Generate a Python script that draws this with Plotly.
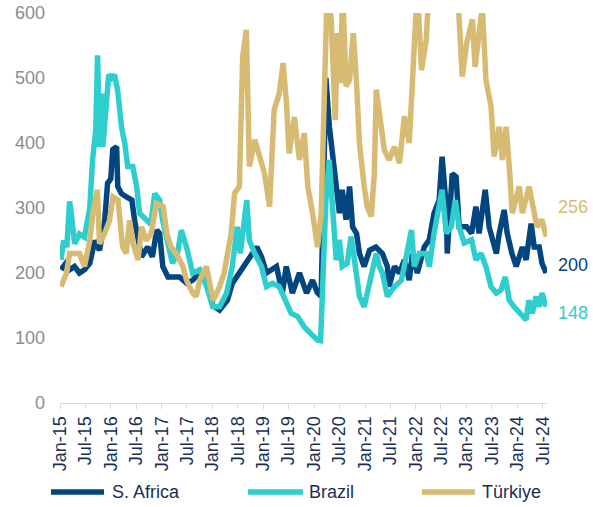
import plotly.graph_objects as go

# Sovereign spreads (bp)
sa_dates = [
    "2015-01-08", "2015-02-12", "2015-03-11", "2015-04-15", "2015-05-21", "2015-06-26",
    "2015-08-03", "2015-09-08", "2015-10-12", "2015-11-18", "2015-12-09", "2016-01-01",
    "2016-01-15", "2016-02-12", "2016-02-20", "2016-03-18", "2016-04-23", "2016-06-01",
    "2016-06-20", "2016-08-09", "2016-09-22", "2016-10-26", "2016-11-26", "2016-12-17",
    "2017-01-09", "2017-02-15", "2017-05-09", "2017-07-01", "2017-08-12", "2017-10-01",
    "2017-11-20", "2018-01-03", "2018-02-21", "2018-04-18", "2018-05-23", "2018-07-13",
    "2018-09-04", "2018-11-15", "2018-12-19", "2019-01-24", "2019-04-06", "2019-05-18",
    "2019-06-15", "2019-07-29", "2019-09-18", "2019-11-08", "2019-12-21", "2020-01-24",
    "2020-02-21", "2020-03-15", "2020-03-26", "2020-04-20", "2020-05-12", "2020-06-08",
    "2020-07-01", "2020-07-21", "2020-08-18", "2020-09-12", "2020-10-04", "2020-11-01",
    "2020-11-22", "2020-12-26", "2021-02-03", "2021-03-20", "2021-05-06", "2021-06-11",
    "2021-06-23", "2021-08-01", "2021-09-06", "2021-10-11", "2021-11-15", "2021-12-08",
    "2022-01-12", "2022-03-03", "2022-04-08", "2022-05-12", "2022-06-18", "2022-07-09",
    "2022-08-08", "2022-08-15", "2022-09-20", "2022-10-18", "2022-11-09", "2023-01-01",
    "2023-02-06", "2023-03-09", "2023-04-01", "2023-05-15", "2023-06-12", "2023-08-03",
    "2023-08-24", "2023-09-28", "2023-10-20", "2023-11-23", "2023-12-24", "2024-02-06",
    "2024-03-04", "2024-04-09", "2024-05-01", "2024-06-06", "2024-06-26", "2024-07-26",
]
sa_values = [
    205, 215, 205, 210, 200, 205,
    215, 250, 235, 280, 338, 345,
    390, 394, 333, 322, 317, 312,
    281, 225, 240, 225, 266, 261,
    210, 194, 194, 184, 189, 200,
    185, 150, 143, 158, 184, 200,
    220, 240, 225, 200, 210, 169,
    210, 169, 200, 169, 189, 170,
    164, 466, 500, 425, 384, 333,
    292, 328, 282, 333, 271, 261,
    230, 210, 235, 240, 230, 210,
    179, 210, 200, 220, 189, 230,
    200, 240, 251, 292, 312, 379,
    302, 230, 353, 348, 271, 271,
    261, 302, 261, 328, 271, 230,
    261, 297, 261, 230, 210, 240,
    220, 276, 240, 240, 215, 200,
]

br_dates = [
    "2015-01-08", "2015-01-27", "2015-02-19", "2015-03-11", "2015-03-24", "2015-04-16",
    "2015-05-21", "2015-06-26", "2015-08-03", "2015-08-23", "2015-09-15", "2015-09-28",
    "2015-10-13", "2015-10-26", "2015-11-05", "2015-12-03", "2015-12-17", "2016-01-08",
    "2016-01-28", "2016-02-20", "2016-03-18", "2016-04-10", "2016-05-02", "2016-06-07",
    "2016-07-05", "2016-07-26", "2016-09-15", "2016-10-14", "2016-11-12", "2016-12-17",
    "2017-01-09", "2017-02-08", "2017-03-19", "2017-04-24", "2017-05-22", "2017-06-28",
    "2017-08-11", "2017-10-01", "2017-11-20", "2018-01-03", "2018-02-21", "2018-04-12",
    "2018-05-23", "2018-06-28", "2018-07-20", "2018-09-04", "2018-09-23", "2018-11-01",
    "2018-12-19", "2019-01-24", "2019-03-08", "2019-04-26", "2019-06-09", "2019-07-20",
    "2019-09-05", "2019-10-23", "2019-12-07", "2020-01-25", "2020-02-17", "2020-03-09",
    "2020-03-26", "2020-04-19", "2020-05-12", "2020-06-08", "2020-07-01", "2020-07-21",
    "2020-08-26", "2020-09-23", "2020-10-17", "2020-11-22", "2020-12-26", "2021-02-03",
    "2021-03-09", "2021-03-23", "2021-04-14", "2021-05-06", "2021-06-11", "2021-08-01",
    "2021-09-20", "2021-10-23", "2021-12-01", "2021-12-21", "2022-01-26", "2022-03-17",
    "2022-04-08", "2022-05-12", "2022-06-18", "2022-07-09", "2022-08-08", "2022-09-13",
    "2022-10-12", "2022-11-09", "2022-12-15", "2023-02-06", "2023-03-09", "2023-04-15",
    "2023-05-20", "2023-06-26", "2023-08-03", "2023-09-06", "2023-10-06", "2023-11-04",
    "2023-12-09", "2024-01-15", "2024-03-04", "2024-03-23", "2024-04-17", "2024-05-15",
    "2024-06-06", "2024-06-26", "2024-07-26",
]
br_values = [
    220, 250, 240, 310, 290, 245,
    260, 255, 300, 374, 420, 535,
    394, 476, 394, 456, 505, 500,
    505, 480, 425, 400, 364, 364,
    333, 292, 281, 275, 322, 312,
    280, 250, 215, 230, 266, 240,
    200, 205, 179, 148, 148, 169,
    210, 271, 230, 312, 250, 230,
    210, 179, 184, 179, 158, 138,
    133, 117, 107, 97, 96, 210,
    312, 374, 292, 220, 251, 210,
    215, 256, 220, 164, 148, 184,
    210, 230, 210, 200, 164, 179,
    189, 220, 266, 210, 230, 230,
    210, 261, 302, 328, 261, 271,
    312, 271, 246, 251, 220, 230,
    210, 179, 169, 174, 194, 158,
    148, 138, 128, 158, 138, 164,
    148, 169, 148,
]

tr_dates = [
    "2015-01-08", "2015-02-17", "2015-03-11", "2015-05-21", "2015-06-26", "2015-08-03",
    "2015-08-25", "2015-09-26", "2015-10-12", "2015-11-18", "2015-12-23", "2016-01-17",
    "2016-02-22", "2016-03-26", "2016-04-21", "2016-05-15", "2016-06-09", "2016-07-15",
    "2016-08-09", "2016-09-12", "2016-10-18", "2016-11-23", "2017-01-12", "2017-02-06",
    "2017-03-09", "2017-04-15", "2017-06-03", "2017-06-28", "2017-08-12", "2017-09-06",
    "2017-10-01", "2017-11-18", "2018-01-06", "2018-02-21", "2018-03-26", "2018-05-15",
    "2018-06-09", "2018-07-13", "2018-08-06", "2018-09-01", "2018-09-23", "2018-11-01",
    "2018-12-06", "2019-01-10", "2019-02-15", "2019-03-20", "2019-04-26", "2019-05-23",
    "2019-06-15", "2019-07-06", "2019-08-12", "2019-09-18", "2019-10-23", "2019-11-17",
    "2019-12-21", "2020-01-26", "2020-02-21", "2020-03-15", "2020-04-06", "2020-05-03",
    "2020-06-01", "2020-06-18", "2020-07-09", "2020-07-24", "2020-08-18", "2020-09-12",
    "2020-10-09", "2020-11-01", "2020-11-22", "2020-12-26", "2021-01-17", "2021-02-15",
    "2021-03-09", "2021-03-23", "2021-04-14", "2021-05-20", "2021-06-23", "2021-08-01",
    "2021-09-06", "2021-10-11", "2021-11-15", "2021-12-08", "2021-12-21", "2022-01-12",
    "2022-02-11", "2022-03-17", "2022-04-08", "2022-05-12", "2022-07-24", "2022-10-06",
    "2022-10-27", "2022-11-09", "2022-12-01", "2023-01-01", "2023-02-12", "2023-03-03",
    "2023-04-01", "2023-04-24", "2023-05-20", "2023-06-26", "2023-07-18", "2023-08-24",
    "2023-09-15", "2023-10-12", "2023-11-04", "2023-11-25", "2024-01-15", "2024-02-06",
    "2024-03-25", "2024-04-18", "2024-05-21", "2024-06-26", "2024-07-26",
]
tr_values = [
    179, 200, 230, 230, 210, 250,
    292, 328, 245, 261, 281, 317,
    312, 240, 230, 281, 245, 220,
    271, 250, 261, 307, 302, 261,
    240, 230, 210, 189, 169, 164,
    189, 210, 158, 179, 200, 261,
    323, 333, 533, 574, 364, 405,
    379, 353, 302, 451, 476, 523,
    466, 384, 440, 374, 415, 333,
    292, 240, 292, 471, 650, 589,
    435, 569, 492, 640, 487, 497,
    569, 492, 400, 333, 302, 287,
    353, 482, 440, 389, 374, 394,
    369, 441, 400, 517, 579, 640,
    512, 558, 650, 720, 780, 700,
    640, 600, 502, 553, 590, 517,
    570, 610, 497, 456, 379, 425,
    374, 425, 364, 292, 333, 292,
    333, 302, 271, 282, 256,
]

series = [
    ("S. Africa", sa_dates, sa_values, "#02457F", 8),
    ("Brazil", br_dates, br_values, "#2ECECE", -6),
    ("Türkiye", tr_dates, tr_values, "#D8BB72", 30),
]

FONT = "Liberation Sans, Arial, sans-serif"
fig = go.Figure()

for name, dates, values, color, _ in series:
    fig.add_trace(go.Scatter(
        x=dates, y=values, name=name, mode="lines",
        line=dict(color=color, width=5.5),
        showlegend=False, hoverinfo="skip",
    ))

# End-of-series value labels
annotations = []
for name, dates, values, color, shift in series:
    annotations.append(dict(
        x=dates[-1], y=values[-1], xref="x", yref="y",
        text=str(values[-1]), showarrow=False,
        xanchor="left", yanchor="middle", xshift=10, yshift=shift,
        font=dict(family=FONT, size=18, color=color),
    ))

# Legend drawn below the axis: line swatch followed by the series name
# (swatch start, swatch end, text start) in paper coordinates
legend_pos = [(-0.0185, 0.0903, 0.1027), (0.386, 0.499, 0.507), (0.743, 0.852, 0.862)]
shapes = []
for (name, _, _, color, _), (x0, x1, xt) in zip(series, legend_pos):
    shapes.append(dict(
        type="line", xref="paper", yref="paper",
        x0=x0, x1=x1, y0=-0.228, y1=-0.228,
        line=dict(color=color, width=5.5),
    ))
    annotations.append(dict(
        x=xt, y=-0.228, xref="paper", yref="paper",
        text=name, showarrow=False, xanchor="left", yanchor="middle",
        font=dict(family=FONT, size=18, color="#1B2F55"),
    ))

fig.update_layout(
    width=593, height=507,
    margin=dict(l=60, r=46, t=13, b=104, autoexpand=False),
    paper_bgcolor="white", plot_bgcolor="white",
    font=dict(family=FONT, size=18),
    hovermode=False,
    shapes=shapes,
    annotations=annotations,
    xaxis=dict(
        type="date", automargin=False,
        range=["2015-01-01", "2024-08-01"],
        tick0="2015-01-01", dtick="M6", tickformat="%b-%y",
        tickangle=-90,
        ticks="outside", ticklen=5, tickcolor="#D9D9D9",
        showline=True, linecolor="#D9D9D9", linewidth=1,
        showgrid=False, zeroline=False,
        tickfont=dict(family=FONT, size=18, color="#1B2F55"),
    ),
    yaxis=dict(
        range=[0, 600], dtick=100, automargin=False,
        showgrid=False, zeroline=False, showline=False,
        ticks="", ticklabelstandoff=14,
        tickfont=dict(family=FONT, size=18, color="#8C8C8C"),
    ),
)

fig.write_html("out.html")
